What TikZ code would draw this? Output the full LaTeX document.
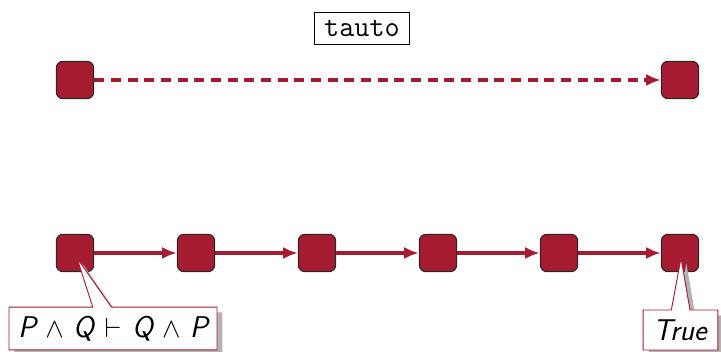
\documentclass[tikz,border=0pt]{standalone}
\usepackage{fontspec}
\usetikzlibrary{arrows.meta,shapes.callouts,shadows}
\definecolor{crimson}{HTML}{A51C30}
\newcommand{\sv}[1]{\textsf{\itshape #1}}
\tikzset{
  x=0.75pt, y=-0.75pt,
  goal/.style={draw=black!85, line width=0.8pt, fill=crimson, rounded corners=5pt,
    minimum width=28pt, minimum height=28pt, inner sep=0pt},
  link/.style={draw=crimson, line width=2.3pt, -{Latex[length=11pt,width=9pt]}},
  dashlink/.style={link, dash pattern=on 7.5pt off 5pt},
  tactic/.style={draw=black, line width=0.7pt, fill=white, inner sep=3pt,
    minimum width=71pt, minimum height=24pt,
    font=\fontsize{22}{26}\selectfont\ttfamily},
  note/.style={rectangle callout, draw=crimson, line width=0.7pt, fill=white,
    callout pointer width=14pt, inner xsep=6pt, inner ysep=3pt,
    font=\fontsize{22.5}{26}\selectfont,
    drop shadow={shadow xshift=4pt, shadow yshift=-4pt, fill=black!30, opacity=1}}
}
\begin{document}
\begin{tikzpicture}
\useasboundingbox (0,0) rectangle (721,352);
\node[tactic] (tac) at (362,28) {tauto};
% goal before and after the single tactic
\node[goal] (t1) at (75,80) {};
\node[goal] (t2) at (680,80) {};
\draw[dashlink] (t1) -- (t2);
% chain of intermediate goals
\foreach \i/\x in {1/75,2/196,3/317,4/438,5/559,6/680}
  \node[goal] (b\i) at (\x,253) {};
\foreach \i/\j in {1/2,2/3,3/4,4/5,5/6}
  \draw[link] (b\i) -- (b\j);
\coordinate (p1) at (77,258);
\coordinate (p6) at (681,258);
\node[note, minimum width=156pt, minimum height=32pt, callout absolute pointer=(p1)] (n1) at (113,328.5)
  {\medmuskip=6mu\thickmuskip=7mu$\sv{P} \wedge \sv{Q} \vdash \sv{Q} \wedge \sv{P}$};
\node[note, minimum width=56pt, minimum height=30pt, inner xsep=3pt, callout absolute pointer=(p6)] (n6) at (680.5,330)
  {\sv{True}};
\end{tikzpicture}
\end{document}
